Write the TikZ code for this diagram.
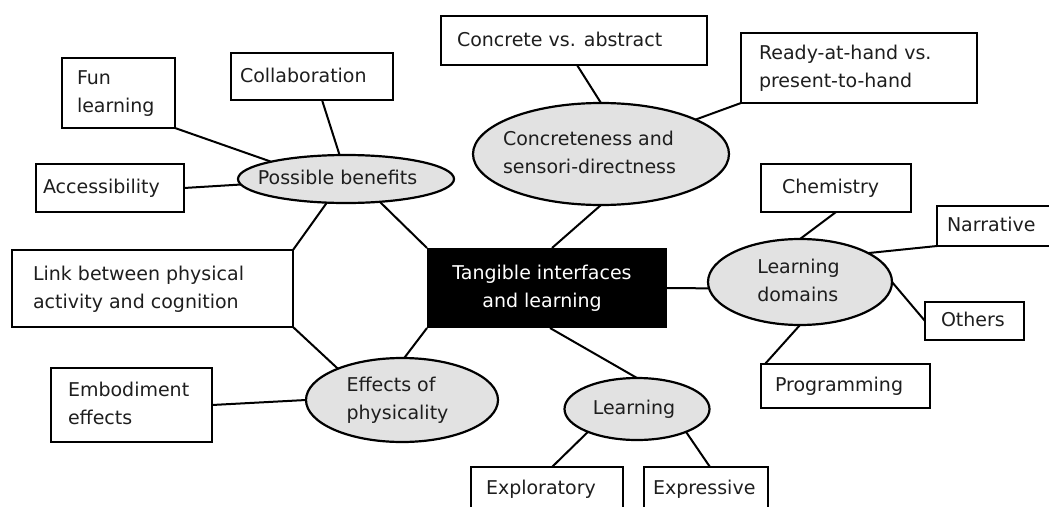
\documentclass[tikz,border=0pt]{standalone}
\usepackage{fontspec}
\setmainfont{DejaVu Sans}
\usetikzlibrary{shapes.geometric}
\definecolor{ellfill}{RGB}{226,226,226}
\definecolor{txt}{RGB}{30,30,30}
\newcommand\boxtext[3]{\makebox[#1pt][l]{\hspace*{#2pt}\begin{tabular}{@{}l@{}}#3\end{tabular}}}
\newcommand\elltext[2]{\makebox[0pt]{\hspace*{#1pt}\begin{tabular}{@{}l@{}}#2\end{tabular}}}
\newcommand\hubtext[2]{\makebox[0pt]{\hspace*{#1pt}\begin{tabular}{@{}c@{}}#2\end{tabular}}}
\tikzset{
  bx/.style={draw=black, line width=2.4pt, fill=white, rectangle, inner sep=0pt, outer sep=0pt, text=txt},
  el/.style={draw=black, line width=2.2pt, fill=ellfill, ellipse, inner sep=0pt, outer sep=0pt, text=txt},
  hub/.style={fill=black, rectangle, inner sep=0pt, outer sep=0pt, text=white, minimum width=240pt, minimum height=80pt},
  conn/.style={line width=2pt, draw=black},
}
\begin{document}
\begin{tikzpicture}[x=1pt, y=-1pt, font=\fontsize{19}{28}\selectfont]
\useasboundingbox (0,0) rectangle (1049,506);
\clip (0,0) rectangle (1049,506);
\fill[white] (0,0) rectangle (1049,506);

% hub
\node[hub] (hub) at (547,288) {\hubtext{-10}{Tangible interfaces\\and learning}};

% ellipses
\node[el, minimum width=216pt, minimum height=48pt] (pb) at (346,179) {\elltext{-17}{Possible benefits}};
\node[el, minimum width=256pt, minimum height=102pt] (cse) at (601,154) {\elltext{-23}{Concreteness and\\sensori-directness}};
\node[el, minimum width=184pt, minimum height=86pt] (ld) at (800,282) {\elltext{-3}{Learning\\domains}};
\node[el, minimum width=192pt, minimum height=84pt] (eff) at (402,400) {\elltext{-9}{Effects of\\physicality}};
\node[el, minimum width=145pt, minimum height=62pt] (lrn) at (637,409) {\elltext{-6}{Learning}};

% boxes
\node[bx, minimum width=113pt, minimum height=70pt] (fun) at (118.5,93) {\boxtext{113}{15}{Fun\\learning}};
\node[bx, minimum width=162pt, minimum height=47pt] (collab) at (312,76.5) {\boxtext{162}{9}{Collaboration}};
\node[bx, minimum width=148pt, minimum height=48pt] (access) at (110,188) {\boxtext{148}{7}{Accessibility}};
\node[bx, minimum width=266pt, minimum height=49pt] (cva) at (574,40.5) {\boxtext{266}{16}{Concrete vs. abstract}};
\node[bx, minimum width=236pt, minimum height=70pt] (ready) at (859,68) {\boxtext{236}{18}{Ready-at-hand vs.\\present-to-hand}};
\node[bx, minimum width=150pt, minimum height=48pt] (chem) at (836,188) {\boxtext{150}{21}{Chemistry}};
\node[bx, minimum width=133pt, minimum height=40pt] (nar) at (1003.5,226) {\boxtext{133}{10}{Narrative}};
\node[bx, minimum width=99pt, minimum height=38pt] (oth) at (974.5,321) {\boxtext{99}{16}{Others}};
\node[bx, minimum width=169pt, minimum height=44pt] (prog) at (845.5,386) {\boxtext{169}{14}{Programming}};
\node[bx, minimum width=152pt, minimum height=44pt] (expl) at (547,489) {\boxtext{152}{15}{Exploratory}};
\node[bx, minimum width=124pt, minimum height=44pt] (expr) at (706,489) {\boxtext{124}{9}{Expressive}};
\node[bx, minimum width=281pt, minimum height=77pt] (link) at (152.5,288.5) {\boxtext{281}{21}{Link between physical\\activity and cognition}};
\node[bx, minimum width=161pt, minimum height=74pt] (emb) at (131.5,405) {\boxtext{161}{17}{Embodiment\\effects}};

% connectors
\draw[conn] (fun.south east) -- (pb.167);
\draw[conn] ([xshift=10pt]collab.south) -- (pb.105);
\draw[conn] (access.east) -- (pb.183);
\draw[conn] (pb.326) -- (hub.north west);
\draw[conn] (link.north east) -- (pb.231);
\draw[conn] ([xshift=3pt]cva.south) -- (cse.north);
\draw[conn] (cse.20) -- (ready.south west);
\draw[conn] (cse.south) -- ([xshift=5pt]hub.north);
\draw[conn] (hub.east) -- (ld.184);
\draw[conn] (chem.south) -- (ld.north);
\draw[conn] (ld.23) -- (nar.south west);
\draw[conn] (ld.east) -- (oth.west);
\draw[conn] ([xshift=4pt]prog.north west) -- (ld.south);
\draw[conn] (hub.south west) -- (eff.87);
\draw[conn] (link.south east) -- (eff.154);
\draw[conn] (emb.east) -- (eff.west);
\draw[conn] ([xshift=3pt]hub.south) -- (lrn.north);
\draw[conn] ([xshift=5pt]expl.north) -- (lrn.205);
\draw[conn] ([xshift=4pt]expr.north) -- (lrn.335);
\end{tikzpicture}
\end{document}
